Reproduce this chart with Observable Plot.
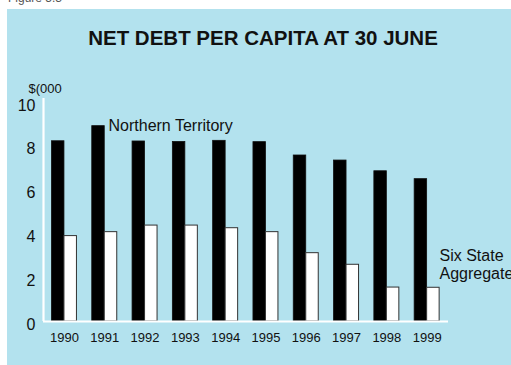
<!DOCTYPE html>
<html><head><meta charset="utf-8">
<script src="https://cdn.jsdelivr.net/npm/d3@7"></script>
<script src="https://cdn.jsdelivr.net/npm/@observablehq/plot@0.6"></script>
<style>
body{margin:0;background:#fff;font-family:"Liberation Sans",Arial,sans-serif;}
#fig{position:absolute;left:8px;top:-9px;font-size:12px;color:#555;}
#panel{position:absolute;left:7px;top:9px;width:504px;height:356px;background:#b3e2ee;overflow:hidden;}
</style></head><body>
<div id="fig">Figure 5.3</div>
<div id="panel"></div>
<script>
const years = [1990, 1991, 1992, 1993, 1994, 1995, 1996, 1997, 1998, 1999];
const northernTerritory = [8.23, 8.92, 8.22, 8.20, 8.25, 8.19, 7.58, 7.35, 6.86, 6.50];
const sixStateAggregate = [3.90, 4.08, 4.38, 4.38, 4.26, 4.08, 3.12, 2.59, 1.55, 1.54];
const yTicks = [0, 2, 4, 6, 8, 10];
const titleText = "NET DEBT PER CAPITA AT 30 JUNE";
const unitText = "$(000";
const ntLabel = "Northern Territory";
const sixLabel = "Six State\nAggregate";

const rows = years.map((year, i) => ({year, nt: northernTerritory[i], six: sixStateAggregate[i]}));
const half = 0.31;
const xDomain = [years[0] - 0.52, years[years.length - 1] + 0.53];
const font = "'Liberation Sans', Arial, sans-serif";

const chart = Plot.plot({
  width: 504, height: 356,
  marginLeft: 36, marginRight: 63, marginTop: 89, marginBottom: 44,
  style: {background: "transparent", fontFamily: font, color: "#111", overflow: "visible"},
  x: {domain: xDomain},
  y: {domain: [0, 10], range: [312, 93]},
  marks: [
    Plot.rectY(rows, {x1: d => d.year - half, x2: d => d.year, y1: 0, y2: "nt", fill: "black", stroke: "#111", strokeWidth: 0.8}),
    Plot.rectY(rows, {x1: d => d.year, x2: d => d.year + half, y1: 0, y2: "six", fill: "white", stroke: "#333", strokeWidth: 1}),
    Plot.ruleY([0], {stroke: "white", strokeWidth: 2.2}),
    Plot.ruleX([xDomain[0]], {stroke: "white", strokeWidth: 2.2}),
    Plot.axisX({ticks: years, tickFormat: d => String(d), tickSize: 0, tickPadding: 11, fontSize: 13, label: null}),
    Plot.axisY({ticks: yTicks, tickSize: 0, tickPadding: 8, fontSize: 16, dy: 3, label: null}),
    Plot.text([titleText], {frameAnchor: "top", dx: 17, dy: -68, fontSize: 20.5, fontWeight: "bold", fill: "#111"}),
    Plot.text([unitText], {frameAnchor: "top-left", dx: -15, dy: -15, textAnchor: "start", fontSize: 13, fill: "#111"}),
    Plot.text([ntLabel], {frameAnchor: "top-left", dx: 65, dy: 21, textAnchor: "start", fontSize: 16, fill: "#111"}),
    Plot.text([sixLabel], {frameAnchor: "right", dx: -9, dy: 54, textAnchor: "start", fontSize: 16, lineHeight: 1.15, fill: "#111"})
  ]
});
document.getElementById("panel").appendChild(chart);
</script>
</body></html>
